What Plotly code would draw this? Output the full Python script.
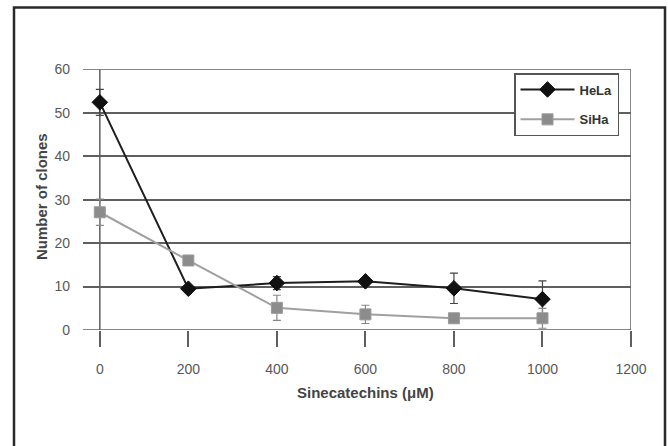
import plotly.graph_objects as go

# ---- data ----
doses = [0, 200, 400, 600, 800, 1000]
hela = [52.4, 9.5, 10.8, 11.2, 9.6, 7.1]
hela_err = [3.0, 0.6, 1.5, 0.8, 3.5, 4.2]
siha = [27.1, 16.0, 5.1, 3.6, 2.7, 2.7]
siha_err = [3.0, 0.5, 2.9, 2.1, 0.6, 2.3]
x_ticks = [0, 200, 400, 600, 800, 1000, 1200]
y_ticks = [0, 10, 20, 30, 40, 50, 60]

W, H = 668, 446
FONT = "Liberation Sans, Arial, sans-serif"
GRID = "#5f5f5f"

fig = go.Figure()
fig.add_trace(go.Scatter(
    x=doses, y=hela, name="HeLa", mode="lines+markers",
    line=dict(color="#1e1e1e", width=2),
    marker=dict(symbol="diamond", size=12, color="#111111", line=dict(color="#111111", width=1)),
    error_y=dict(type="data", array=hela_err, visible=True, color="#444444", thickness=1.2, width=4),
    legendgroup="a",
))
fig.add_trace(go.Scatter(
    x=doses, y=siha, name="SiHa", mode="lines+markers",
    line=dict(color="#a0a0a0", width=2),
    marker=dict(symbol="square", size=11, color="#8c8c8c", line=dict(color="#9a9a9a", width=1)),
    error_y=dict(type="data", array=siha_err, visible=True, color="#888888", thickness=1.2, width=4),
    legendgroup="b",
))

x0px, x1px = 83, 631
ytop, ybot = 69.3, 330

fig.update_layout(
    width=W, height=H,
    margin=dict(l=0, r=0, t=0, b=0, pad=0),
    paper_bgcolor="white", plot_bgcolor="white",
    font=dict(family=FONT, size=14, color="#555555"),
    xaxis=dict(
        domain=[x0px / W, x1px / W], range=[-38, 1200], automargin=False,
        tickvals=x_ticks, ticktext=[str(v) for v in x_ticks],
        ticks="outside", ticklen=16, tickwidth=1.5, tickcolor=GRID,
        ticklabelstandoff=10,
        showgrid=False, zeroline=False, showline=False,
        tickfont=dict(size=14, color="#585858"),
    ),
    yaxis=dict(
        domain=[1 - ybot / H, 1 - ytop / H], range=[0, 60], automargin=False,
        tickvals=y_ticks, ticks="", ticklabelstandoff=12,
        showgrid=True, gridcolor=GRID, gridwidth=1.5,
        zeroline=False, showline=False,
        tickfont=dict(size=14, color="#585858"),
    ),
    legend=dict(
        x=514 / W, y=1 - 73 / H, xanchor="left", yanchor="top",
        bordercolor="#555555", borderwidth=1.5, bgcolor="white",
        font=dict(family=FONT, size=13, color="#333333", weight="bold"),
        tracegroupgap=10, itemwidth=54, entrywidth=62,
    ),
    showlegend=True,
)

# edge gridlines (0 and 60), y-axis line at x=0 and right border at x=1200
for yv in (y_ticks[0], y_ticks[-1]):
    fig.add_shape(type="line", xref="paper", yref="y", x0=x0px / W, x1=x1px / W, y0=yv, y1=yv,
                  line=dict(color=GRID, width=1.5), layer="below")
for xv in (x_ticks[0], x_ticks[-1]):
    fig.add_shape(type="line", xref="x", yref="y", x0=xv, x1=xv, y0=0, y1=60,
                  line=dict(color=GRID, width=1.5), layer="below")

# outer frame
fig.add_shape(type="rect", xref="paper", yref="paper",
              x0=14 / W, x1=665 / W, y0=-0.05, y1=1 - 7.5 / H,
              line=dict(color="#2a2a2a", width=2.5), layer="above")

# axis titles
fig.add_annotation(text="Sinecatechins (μM)", xref="x", yref="paper", x=600, y=1 - 392 / H,
                   xanchor="center", yanchor="middle", showarrow=False,
                   font=dict(family=FONT, size=15, color="#444444", weight="bold"))
fig.add_annotation(text="Number of clones", xref="paper", yref="paper", x=41 / W, y=1 - 197 / H,
                   xanchor="center", yanchor="middle", textangle=-90, showarrow=False,
                   font=dict(family=FONT, size=15, color="#444444", weight="bold"))

fig.write_html("out.html")
